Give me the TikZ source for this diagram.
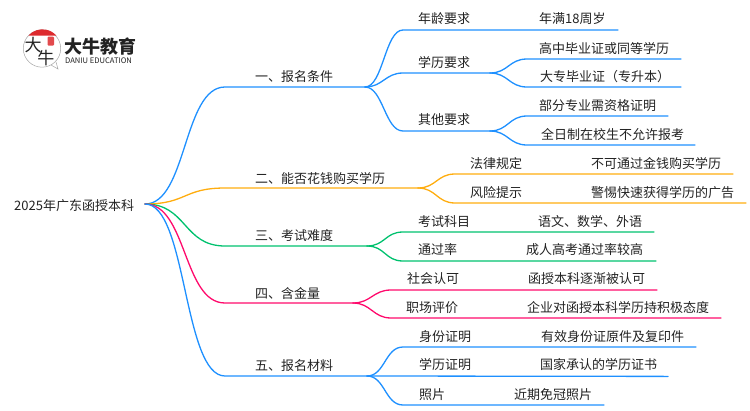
\documentclass[tikz,border=0pt]{standalone}
\usepackage{fontspec}
\setmainfont{Noto Sans CJK SC}
\usepackage{tikz}
\definecolor{lineblue}{HTML}{1E90FF}
\definecolor{lineorange}{HTML}{FFAD0F}
\definecolor{linegreen}{HTML}{00C16E}
\definecolor{linepink}{HTML}{FF0A6C}
\definecolor{inkgrey}{HTML}{222222}
\definecolor{logored}{HTML}{DD2A2E}
\tikzstyle{label} = [anchor=west, inner sep=0pt, yshift=-0.8pt, text=inkgrey, font=\fontsize{13}{15}\selectfont]
\tikzstyle{wire} = [line width=1.3pt, line cap=round]
\tikzstyle{bluewire} = [wire, draw=lineblue]
\tikzstyle{orangewire} = [wire, draw=lineorange]
\tikzstyle{greenwire} = [wire, draw=linegreen]
\tikzstyle{pinkwire} = [wire, draw=linepink]

\begin{document}
\begin{tikzpicture}[x=1pt,y=-1pt]
\useasboundingbox (0,0) rectangle (750,410);

% logo
\draw [draw=black!35, line width=0.5pt] (42,48.5) circle (18.7);
\draw [draw=black!35, line width=0.5pt] (51,65) -- (58,69) -- (56,62);
\fill [logored] (28.5,35.5) arc (222:318:18.7) -- cycle;
\fill [logored!85!white, rounded corners=1pt] (47.5,36.5) rectangle (54,45.5);
\node (logohead) [inner sep=0pt, text=inkgrey] at (33,45) {\fontsize{17}{17}\selectfont 大};
\node (logotail) [inner sep=0pt, text=inkgrey] at (46,58) {\fontsize{17}{17}\selectfont 牛};
\node (logoname) [anchor=west, inner sep=0pt, text=inkgrey] at (64,47) {\fontsize{18}{18}\selectfont\bfseries 大牛教育};
\node (logosub) [anchor=west, inner sep=0pt, text=inkgrey] at (65,60.5) {\fontsize{7.6}{8}\selectfont DANIU EDUCATION};

% root and first level
\node (root) [label] at (14,205) {2025年广东函授本科};
\coordinate (start) at (145,204);
\node (cond) [label] at (255,76) {一、报名条件};
\node (money) [label] at (255,178) {二、能否花钱购买学历};
\node (hard) [label] at (255,235) {三、考试难度};
\node (worth) [label] at (255,293) {四、含金量};
\node (docs) [label] at (255,365) {五、报名材料};

\coordinate (cond0) at (225,87);
\coordinate (cond1) at (365,87);
\coordinate (money0) at (225,188);
\coordinate (money1) at (418,188);
\coordinate (hard0) at (225,246);
\coordinate (hard1) at (367,246);
\coordinate (worth0) at (225,303);
\coordinate (worth1) at (353,303);
\coordinate (docs0) at (225,376);
\coordinate (docs1) at (367,376);

\draw [bluewire] (start) .. controls +(42,0) and +(-42,0) .. (cond0) -- (cond1);
\draw [orangewire] (start) .. controls +(42,0) and +(-42,0) .. (money0) -- (money1);
\draw [greenwire] (start) .. controls +(42,0) and +(-42,0) .. (hard0) -- (hard1);
\draw [pinkwire] (start) .. controls +(42,0) and +(-42,0) .. (worth0) -- (worth1);
\draw [bluewire] (start) .. controls +(42,0) and +(-42,0) .. (docs0) -- (docs1);

% one
\node (age) [label] at (418,18) {年龄要求};
\node (agetext) [label] at (539,18) {年满18周岁};
\node (edu) [label] at (418,62) {学历要求};
\node (edutext1) [label] at (539,48) {高中毕业证或同等学历};
\node (edutext2) [label] at (540,76) {大专毕业证（专升本）};
\node (other) [label] at (418,119) {其他要求};
\node (othertext1) [label] at (539,105) {部分专业需资格证明};
\node (othertext2) [label] at (541,134) {全日制在校生不允许报考};
\coordinate (age0) at (403,30);
\coordinate (age1) at (618,30);
\coordinate (edu0) at (403,73);
\coordinate (edu1) at (490,73);
\coordinate (edua) at (527,59);
\coordinate (edub) at (681,59);
\coordinate (educ) at (527,87);
\coordinate (edud) at (681,87);
\coordinate (other0) at (403,131);
\coordinate (other1) at (490,131);
\coordinate (othera) at (527,116);
\coordinate (otherb) at (668,116);
\coordinate (otherc) at (527,145);
\coordinate (otherd) at (695,145);
\draw [bluewire] (cond1) .. controls +(18,0) and +(-18,0) .. (age0) -- (age1);
\draw [bluewire] (cond1) .. controls +(18,0) and +(-18,0) .. (edu0) -- (edu1);
\draw [bluewire] (cond1) .. controls +(18,0) and +(-18,0) .. (other0) -- (other1);
\draw [bluewire] (edu1) .. controls +(18,0) and +(-18,0) .. (edua) -- (edub);
\draw [bluewire] (edu1) .. controls +(18,0) and +(-18,0) .. (educ) -- (edud);
\draw [bluewire] (other1) .. controls +(18,0) and +(-18,0) .. (othera) -- (otherb);
\draw [bluewire] (other1) .. controls +(18,0) and +(-18,0) .. (otherc) -- (otherd);

% two
\node (law) [label] at (470,163) {法律规定};
\node (lawtext) [label] at (591,163) {不可通过金钱购买学历};
\node (risk) [label] at (470,192) {风险提示};
\node (risktext) [label] at (591,192) {警惕快速获得学历的广告};
\coordinate (law0) at (455,174);
\coordinate (law1) at (733,174);
\coordinate (risk0) at (455,203);
\coordinate (risk1) at (746,203);
\draw [orangewire] (money1) .. controls +(18,0) and +(-18,0) .. (law0) -- (law1);
\draw [orangewire] (money1) .. controls +(18,0) and +(-18,0) .. (risk0) -- (risk1);

% three
\node (subject) [label] at (418,221) {考试科目};
\node (subjecttext) [label] at (538,221) {语文、数学、外语};
\node (rate) [label] at (418,249) {通过率};
\node (ratetext) [label] at (526,249) {成人高考通过率较高};
\coordinate (subject0) at (403,232);
\coordinate (subject1) at (654,232);
\coordinate (rate0) at (403,261);
\coordinate (rate1) at (656,261);
\draw [greenwire] (hard1) .. controls +(18,0) and +(-18,0) .. (subject0) -- (subject1);
\draw [greenwire] (hard1) .. controls +(18,0) and +(-18,0) .. (rate0) -- (rate1);

% four
\node (society) [label] at (407,278) {社会认可};
\node (societytext) [label] at (528,278) {函授本科逐渐被认可};
\node (job) [label] at (406,307) {职场评价};
\node (jobtext) [label] at (527,307) {企业对函授本科学历持积极态度};
\coordinate (society0) at (391,290);
\coordinate (society1) at (657,290);
\coordinate (job0) at (391,318);
\coordinate (job1) at (721,318);
\draw [pinkwire] (worth1) .. controls +(18,0) and +(-18,0) .. (society0) -- (society1);
\draw [pinkwire] (worth1) .. controls +(18,0) and +(-18,0) .. (job0) -- (job1);

% five
\node (idcard) [label] at (419,336) {身份证明};
\node (idcardtext) [label] at (541,336) {有效身份证原件及复印件};
\node (diploma) [label] at (419,364) {学历证明};
\node (diplomatext) [label] at (540,364) {国家承认的学历证书};
\node (photo) [label] at (419,394) {照片};
\node (phototext) [label] at (514,394) {近期免冠照片};
\coordinate (idcard0) at (403,347);
\coordinate (idcard1) at (696,347);
\coordinate (diploma1) at (668,376.4);
\coordinate (photo0) at (403,405);
\coordinate (photo1) at (604,405);
\draw [bluewire] (docs1) .. controls +(18,0) and +(-18,0) .. (idcard0) -- (idcard1);
\draw [bluewire] (docs1) -- (diploma1);
\draw [bluewire] (docs1) .. controls +(18,0) and +(-18,0) .. (photo0) -- (photo1);
\end{tikzpicture}
\end{document}
